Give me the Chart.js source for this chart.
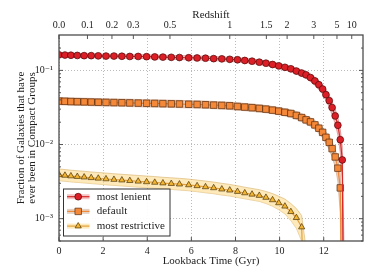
<!DOCTYPE html>
<html>
<head>
<meta charset="utf-8">
<script src="https://cdn.jsdelivr.net/npm/chart.js@4.4.0/dist/chart.umd.min.js"></script>
<style>
  html, body { margin: 0; padding: 0; background: #fff; }
</style>
</head>
<body>
<canvas id="fraccionGrupos" width="374" height="280"></canvas>
<script>
// Tiempo de retroceso (Gyr) de cada snapshot
const lookbackGyr = [0, 0.27, 0.54, 0.83, 1.14, 1.46, 1.78, 2.13, 2.49, 2.85, 3.21, 3.59, 3.97, 4.34, 4.71, 5.09,
  5.46, 5.88, 6.26, 6.64, 7.01, 7.38, 7.74, 8.09, 8.42, 8.75, 9.08, 9.38, 9.68, 9.96, 10.24, 10.51, 10.76,
  11.0, 11.2, 11.4, 11.6, 11.78, 11.95, 12.1, 12.25, 12.38, 12.52, 12.64, 12.75, 12.84, 12.92];

const mostLenient = [0.162, 0.161, 0.160, 0.159, 0.158, 0.158, 0.157, 0.156, 0.156, 0.155, 0.154, 0.154, 0.153, 0.152, 0.151, 0.150,
  0.149, 0.148, 0.147, 0.146, 0.144, 0.143, 0.141, 0.139, 0.136, 0.133, 0.129, 0.125, 0.120, 0.115, 0.110, 0.105, 0.098,
  0.092, 0.087, 0.080, 0.072, 0.064, 0.056, 0.047, 0.039, 0.0315, 0.0243, 0.0182, 0.0116, 0.0062, 0.00001];
const mostLenientHi = [0.171, 0.170, 0.169, 0.168, 0.167, 0.167, 0.166, 0.165, 0.165, 0.164, 0.163, 0.163, 0.162, 0.161, 0.160, 0.159,
  0.158, 0.157, 0.156, 0.155, 0.153, 0.152, 0.150, 0.148, 0.145, 0.142, 0.138, 0.134, 0.129, 0.124, 0.119, 0.114, 0.107,
  0.101, 0.096, 0.089, 0.081, 0.073, 0.064, 0.055, 0.046, 0.038, 0.030, 0.023, 0.016, 0.0095, 0.0004];
const mostLenientLo = [0.153, 0.152, 0.151, 0.150, 0.149, 0.149, 0.148, 0.147, 0.147, 0.146, 0.145, 0.145, 0.144, 0.143, 0.142, 0.141,
  0.140, 0.139, 0.138, 0.137, 0.135, 0.134, 0.132, 0.130, 0.127, 0.124, 0.120, 0.116, 0.111, 0.106, 0.101, 0.096, 0.089,
  0.083, 0.078, 0.071, 0.063, 0.055, 0.048, 0.039, 0.032, 0.025, 0.019, 0.0135, 0.0078, 0.0035, 0.00001];

const defaultCG = [0.0385, 0.0383, 0.0380, 0.0378, 0.0376, 0.0374, 0.0372, 0.0370, 0.0368, 0.0366, 0.0364, 0.0362, 0.0360, 0.0358, 0.0356, 0.0354,
  0.0352, 0.0349, 0.0347, 0.0344, 0.0340, 0.0337, 0.0333, 0.0326, 0.0320, 0.0314, 0.0307, 0.0300, 0.0291, 0.0282, 0.0272, 0.0262, 0.0247,
  0.0231, 0.0215, 0.0202, 0.0184, 0.0166, 0.0146, 0.0125, 0.0107, 0.0088, 0.0068, 0.0048, 0.0026, 0.00001, null];
const defaultHi = [0.0430, 0.0428, 0.0425, 0.0423, 0.0421, 0.0419, 0.0417, 0.0414, 0.0412, 0.0410, 0.0408, 0.0405, 0.0403, 0.0401, 0.0399, 0.0396,
  0.0394, 0.0391, 0.0389, 0.0385, 0.0381, 0.0377, 0.0373, 0.0365, 0.0358, 0.0352, 0.0344, 0.0336, 0.0326, 0.0316, 0.0305, 0.0294, 0.0278,
  0.0261, 0.0244, 0.0230, 0.0211, 0.0192, 0.0171, 0.0148, 0.0129, 0.0108, 0.0086, 0.0064, 0.0040, 0.0004, null];
const defaultLo = [0.0344, 0.0342, 0.0339, 0.0337, 0.0336, 0.0334, 0.0332, 0.0330, 0.0329, 0.0327, 0.0325, 0.0323, 0.0321, 0.0320, 0.0318, 0.0316,
  0.0314, 0.0312, 0.0310, 0.0307, 0.0304, 0.0301, 0.0297, 0.0291, 0.0286, 0.0280, 0.0274, 0.0268, 0.0260, 0.0252, 0.0243, 0.0233, 0.0219,
  0.0204, 0.0189, 0.0176, 0.0159, 0.0142, 0.0123, 0.0103, 0.0086, 0.0068, 0.0050, 0.0032, 0.0012, 0.00001, null];

const mostRestrictive = [0.00390, 0.00383, 0.00376, 0.00369, 0.00363, 0.00356, 0.00350, 0.00343, 0.00337, 0.00331, 0.00325, 0.00319, 0.00313, 0.00308, 0.00302, 0.00297,
  0.00292, 0.00285, 0.00277, 0.00268, 0.00260, 0.00250, 0.00242, 0.00232, 0.00222, 0.00213, 0.00205, 0.00193, 0.00179, 0.00163, 0.00147, 0.00124, 0.00103,
  0.00077, 0.00001, null, null, null, null, null, null, null, null, null, null, null, null];
const restrictiveHi = [0.00468, 0.00460, 0.00451, 0.00443, 0.00436, 0.00427, 0.00420, 0.00412, 0.00404, 0.00397, 0.00390, 0.00383, 0.00376, 0.00370, 0.00362, 0.00356,
  0.00350, 0.00342, 0.00332, 0.00322, 0.00312, 0.00300, 0.00290, 0.00278, 0.00266, 0.00256, 0.00246, 0.00233, 0.00218, 0.00201, 0.00184, 0.00160, 0.00137,
  0.00110, 0.0004, null, null, null, null, null, null, null, null, null, null, null, null];
const restrictiveLo = [0.00325, 0.00319, 0.00313, 0.00308, 0.00303, 0.00297, 0.00292, 0.00286, 0.00281, 0.00276, 0.00271, 0.00266, 0.00261, 0.00257, 0.00252, 0.00248,
  0.00243, 0.00238, 0.00231, 0.00223, 0.00217, 0.00208, 0.00202, 0.00193, 0.00185, 0.00178, 0.00171, 0.00160, 0.00147, 0.00132, 0.00116, 0.00094, 0.00074,
  0.00050, 0.00001, null, null, null, null, null, null, null, null, null, null, null, null];

// Ticks de los ejes
const xTicks = [0, 2, 4, 6, 8, 10, 12];
const yTicks = [0.001, 0.01, 0.1];
const yTickLabels = ['10\u207B\u00B3', '10\u207B\u00B2', '10\u207B\u00B9'];
const redshiftLabels = ['0.0', '0.1', '0.2', '0.3', '0.5', '1', '1.5', '2', '3', '5', '10'];
const redshiftLookback = [0, 1.29, 2.40, 3.37, 5.03, 7.74, 9.40, 10.34, 11.55, 12.60, 13.27];

const serif = "'Liberation Serif', 'DejaVu Serif', serif";

/**
 * Une los tiempos con los valores de una serie
 */
var obtenerPuntos = function(ys) {
    const puntos = [];
    lookbackGyr.forEach((t, i) => {
        puntos.push({x: t, y: ys[i]});
    });
    return puntos;
}

/**
 * Serie principal con marcadores
 */
var serie = function(label, ys, linea, relleno, borde, estilo, radio) {
    return {
        label: label, data: obtenerPuntos(ys),
        borderColor: linea, borderWidth: 1.2,
        pointStyle: estilo, pointRadius: radio,
        pointBackgroundColor: relleno, pointBorderColor: borde, pointBorderWidth: 0.7,
        fill: false, clip: 0, tension: 0, spanGaps: false
    };
}

/**
 * Bordes de la banda sombreada
 */
var banda = function(ys, relleno, borde, fill) {
    return {
        label: '', data: obtenerPuntos(ys),
        borderColor: borde, borderWidth: 0.8, backgroundColor: relleno,
        pointRadius: 0, fill: fill, clip: 0, tension: 0, spanGaps: false
    };
}

// Marco y marcas de los ejes hacia adentro (estilo matplotlib)
const marcoEjes = {
    id: 'marcoEjes',
    afterDatasetsDraw(chart) {
        const ctx = chart.ctx;
        const a = chart.chartArea;
        const sx = chart.scales.x, sx2 = chart.scales.x2, sy = chart.scales.y;
        ctx.save();
        ctx.strokeStyle = '#444';
        ctx.lineWidth = 0.9;
        ctx.beginPath();
        xTicks.forEach(v => {
            const px = sx.getPixelForValue(v);
            ctx.moveTo(px, a.bottom); ctx.lineTo(px, a.bottom - 4);
        });
        redshiftLookback.forEach(v => {
            const px = sx2.getPixelForValue(v);
            ctx.moveTo(px, a.top); ctx.lineTo(px, a.top + 4);
        });
        [0.0001, 0.001, 0.01, 0.1].forEach(d => {
            for (let m = 1; m < 10; m++) {
                const v = m * d;
                if (v < sy.min || v > sy.max) continue;
                const py = sy.getPixelForValue(v);
                const l = m === 1 ? 4 : 2;
                ctx.moveTo(a.left, py); ctx.lineTo(a.left + l, py);
                ctx.moveTo(a.right, py); ctx.lineTo(a.right - l, py);
            }
        });
        ctx.stroke();
        ctx.strokeStyle = '#4d4d4d';
        ctx.lineWidth = 1.3;
        ctx.strokeRect(a.left, a.top, a.right - a.left, a.bottom - a.top);
        ctx.restore();
    }
};

// Leyenda dentro del área de trazado
const leyenda = {
    id: 'leyenda',
    afterDraw(chart) {
        const ctx = chart.ctx;
        const x0 = 63.5, y0 = 189, w = 106.5, h = 47;
        ctx.save();
        ctx.fillStyle = 'rgba(255,255,255,0.92)';
        ctx.fillRect(x0, y0, w, h);
        ctx.strokeStyle = '#333';
        ctx.lineWidth = 1;
        ctx.strokeRect(x0, y0, w, h);
        for (let i = 0; i < 3; i++) {
            const ds = chart.data.datasets[i];
            const bd = chart.data.datasets[3 + 2 * i];
            const y = y0 + 7.7 + i * 14.7;
            ctx.strokeStyle = bd.backgroundColor;
            ctx.lineWidth = 5;
            ctx.beginPath(); ctx.moveTo(67, y); ctx.lineTo(89.5, y); ctx.stroke();
            ctx.strokeStyle = ds.borderColor;
            ctx.lineWidth = ds.borderWidth;
            ctx.beginPath(); ctx.moveTo(67, y); ctx.lineTo(89.5, y); ctx.stroke();
            ctx.fillStyle = ds.pointBackgroundColor;
            ctx.strokeStyle = ds.pointBorderColor;
            ctx.lineWidth = ds.pointBorderWidth;
            Chart.helpers.drawPoint(ctx, {pointStyle: ds.pointStyle, radius: ds.pointRadius, borderWidth: ds.pointBorderWidth, rotation: 0}, 78.2, y);
            ctx.fillStyle = '#222';
            ctx.font = '11px ' + serif;
            ctx.textBaseline = 'middle';
            ctx.textAlign = 'left';
            ctx.fillText(ds.label, 96.7, y);
        }
        ctx.restore();
    }
};

const ctx = document.getElementById('fraccionGrupos');

new Chart(ctx, {
    type: 'line',
    data: {
        datasets: [
            serie('most lenient', mostLenient, '#d42a2a', '#dc1f26', '#4d0a0a', 'circle', 3.4),
            serie('default', defaultCG, '#ef8a3c', '#f5893a', '#5a2a08', 'rect', 4.6),
            serie('most restrictive', mostRestrictive, '#e3a240', '#f3b632', '#4d3308', 'triangle', 3.6),
            banda(mostLenientHi, 'rgba(238,120,120,0.45)', 'rgba(200,60,60,0.55)', '+1'),
            banda(mostLenientLo, 'rgba(238,120,120,0.45)', 'rgba(200,60,60,0.55)', false),
            banda(defaultHi, 'rgba(205,165,135,0.5)', 'rgba(190,120,80,0.55)', '+1'),
            banda(defaultLo, 'rgba(205,165,135,0.5)', 'rgba(190,120,80,0.55)', false),
            banda(restrictiveHi, 'rgba(252,218,140,0.6)', 'rgba(205,160,80,0.6)', '+1'),
            banda(restrictiveLo, 'rgba(252,218,140,0.6)', 'rgba(205,160,80,0.6)', false)
        ]
    },
    options: {
        responsive: false,
        animation: false,
        devicePixelRatio: 1,
        layout: { padding: { left: 0, right: 11, top: 0, bottom: 0 } },
        plugins: {
            legend: { display: false },
            tooltip: { enabled: false }
        },
        scales: {
            x: {
                type: 'linear', position: 'bottom', min: 0, max: 13.78,
                afterBuildTicks: s => { s.ticks = xTicks.map(v => ({value: v})); },
                ticks: { padding: 4, color: '#222', font: { family: serif, size: 10 }, maxRotation: 0, autoSkip: false,
                    callback: v => String(v) },
                grid: { drawTicks: false, color: '#aaa', lineWidth: 0.8 },
                border: { display: false, dash: [1, 2] },
                title: { display: true, text: 'Lookback Time (Gyr)', color: '#222', font: { family: serif, size: 11 },
                    padding: { top: 0, bottom: 12 } },
                afterFit: s => { s.height = 39; }
            },
            x2: {
                type: 'linear', position: 'top', min: 0, max: 13.78,
                afterBuildTicks: s => { s.ticks = redshiftLookback.map(v => ({value: v})); },
                ticks: { padding: 4, color: '#222', font: { family: serif, size: 10 }, maxRotation: 0, autoSkip: false,
                    callback: (v, i) => redshiftLabels[i] },
                grid: { drawOnChartArea: false, drawTicks: false },
                border: { display: false },
                title: { display: true, text: 'Redshift', color: '#222', font: { family: serif, size: 11 },
                    padding: { top: 9, bottom: 0 } },
                afterFit: s => { s.height = 35; }
            },
            y: {
                type: 'logarithmic', position: 'left', min: 0.0005, max: 0.3,
                afterBuildTicks: s => { s.ticks = yTicks.map(v => ({value: v})); },
                ticks: { padding: 6, color: '#222', font: { family: serif, size: 10 }, autoSkip: false,
                    callback: (v, i) => yTickLabels[i] },
                grid: { drawTicks: false, color: '#aaa', lineWidth: 0.8 },
                border: { display: false, dash: [1, 2] },
                title: { display: true, text: ['Fraction of Galaxies that have', 'ever been in Compact Groups'], color: '#222',
                    font: { family: serif, size: 11, lineHeight: 1.0 }, padding: { top: 16, bottom: 0 } },
                afterFit: s => { s.width = 59; }
            }
        }
    },
    plugins: [marcoEjes, leyenda]
});
</script>
</body>
</html>
